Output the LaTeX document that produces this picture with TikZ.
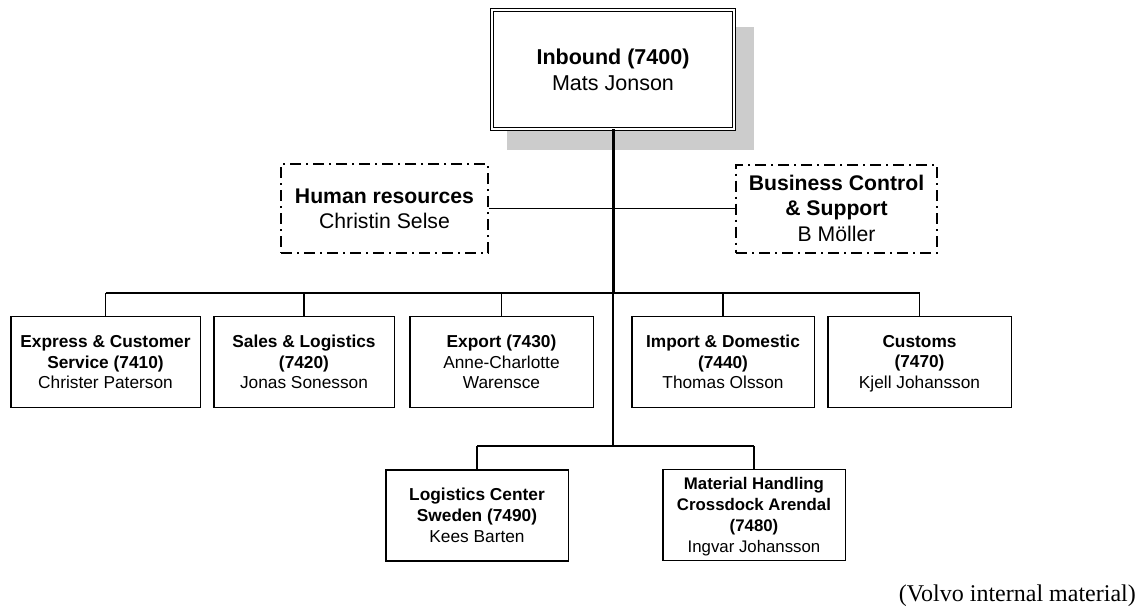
\documentclass[tikz,border=0pt]{standalone}
\usepackage{fontspec}
\setmainfont{Liberation Sans}
\newfontfamily\capfont{Liberation Serif}
\usetikzlibrary{calc,backgrounds}
% strut that keeps capitals optically centred in a line
\newcommand{\capstrut}{\rule[-0.2em]{0pt}{1.1em}}

\begin{document}
\begin{tikzpicture}[x=1pt,y=-1pt,
  headbox/.style={draw=black, fill=white, double=white, double distance=2pt,
    line width=1.2pt, inner sep=0pt, align=center,
    font=\fontsize{21.5}{26}\selectfont},
  staffbox/.style={draw=black, line width=2pt,
    dash pattern=on 11pt off 5pt on 2pt off 5pt,
    inner sep=0pt, align=center, font=\fontsize{21.2}{25.5}\selectfont},
  unitbox/.style={draw=black, line width=1.5pt, inner sep=0pt, align=center,
    minimum height=91pt, font=\fontsize{17.3}{20.7}\selectfont},
  link/.style={draw=black, line width=1.3pt},
  boldlink/.style={draw=black, line width=2.3pt},
  trunk/.style={draw=black, line width=3pt},
  shadowfill/.style={fill=black!20}
]
\useasboundingbox (0,0) rectangle (1143,608);

% head of the organisation
\node[headbox, minimum width=241.6pt, minimum height=118.6pt] (top) at (613,69.5)
  {\capstrut\textbf{Inbound (7400)}\\Mats Jonson\capstrut};
\begin{scope}[on background layer]
  \fill[shadowfill] ($(top.north west)+(15,17)$) rectangle ($(top.south east)+(20,21)$);
\end{scope}

% staff functions
\node[staffbox, minimum width=207pt, minimum height=89pt] (hr) at (384.5,208.5)
  {\capstrut\textbf{Human resources}\\Christin Selse\capstrut};
\node[staffbox, minimum width=201pt, minimum height=88pt] (bc) at (836.5,208.5)
  {\capstrut\textbf{Business Control}\\\textbf{\& Support}\\B Möller\capstrut};

% departments, first row
\node[unitbox, minimum width=189.5pt] (b1) at (105.5,362)
  {\capstrut\textbf{Express \& Customer}\\\textbf{Service (7410)}\\Christer Paterson\capstrut};
\node[unitbox, minimum width=180.5pt] (b2) at (304,362)
  {\capstrut\textbf{Sales \& Logistics}\\\textbf{(7420)}\\Jonas Sonesson\capstrut};
\node[unitbox, minimum width=183.5pt] (b3) at (501.5,362)
  {\capstrut\textbf{Export (7430)}\\Anne-Charlotte\\Warensce\capstrut};
\node[unitbox, minimum width=182.5pt] (b4) at (723,362)
  {\capstrut\textbf{Import \& Domestic}\\\textbf{(7440)}\\Thomas Olsson\capstrut};
\node[unitbox, minimum width=183.5pt] (b5) at (919.5,362)
  {\capstrut\textbf{Customs}\\\textbf{(7470)}\\Kjell Johansson\capstrut};

% departments, second row
\node[unitbox, minimum width=182.5pt] (lc) at (477,515.5)
  {\capstrut\textbf{Logistics Center}\\\textbf{Sweden (7490)}\\Kees Barten\capstrut};
\node[unitbox, minimum width=182.5pt, font=\fontsize{16.8}{21}\selectfont] (mh) at (754,515)
  {\capstrut\textbf{Material Handling}\\\textbf{Crossdock Arendal}\\\textbf{(7480)}\\Ingvar Johansson\capstrut};

% bus positions
\coordinate (bus) at (top.south |- 0,293);
\coordinate (lowbus) at (top.south |- 0,446);

% connectors
\draw[link] (hr.east) -- (hr.east -| bc.west);
\draw[link] (b1.north |- bus) -- (b5.north |- bus);
\draw[boldlink] (b2.north |- bus) -- ($(b4.north |- bus)!0.4!(b5.north |- bus)$);
\foreach \b in {b1,b2,b3,b4,b5}
  \draw[link] (\b.north) -- (\b.north |- bus);
\draw[trunk] (top.south) -- (bus);
\draw[link, line width=2pt] (bus) -- (lowbus);
\draw[link] (lc.north |- lowbus) -- (mh.north |- lowbus);
\draw[link] (lc.north) -- (lc.north |- lowbus);
\draw[link] (mh.north) -- (mh.north |- lowbus);

% source note
\node[anchor=base east, inner sep=0pt, font=\capfont\fontsize{24}{28}\selectfont] (note)
  at (1136,601) {(Volvo internal material)};
\end{tikzpicture}
\end{document}
